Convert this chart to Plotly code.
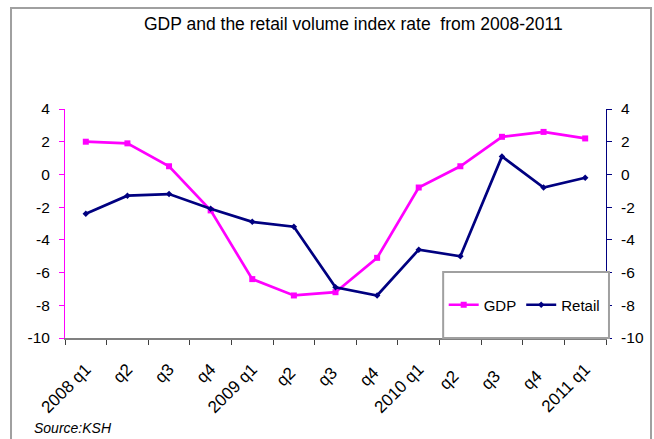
import plotly.graph_objects as go

quarters = ["2008 q1", "q2", "q3", "q4", "2009 q1", "q2 ", "q3 ", "q4 ",
            "2010 q1", "q2  ", "q3  ", "q4  ", "2011 q1"]
gdp = [2.0, 1.9, 0.5, -2.2, -6.4, -7.4, -7.2, -5.1, -0.8, 0.5, 2.3, 2.6, 2.2]
retail = [-2.4, -1.3, -1.2, -2.1, -2.9, -3.2, -6.9, -7.4, -4.6, -5.0, 1.1, -0.8, -0.2]
y_ticks = [-10, -8, -6, -4, -2, 0, 2, 4]
y_tick_text = [str(v) for v in y_ticks]

MAGENTA = "#ff00ff"
NAVY = "#000080"
FONT = "Liberation Sans, Arial, sans-serif"

fig = go.Figure()
fig.add_trace(go.Scatter(
    x=quarters, y=gdp, name="GDP", mode="lines+markers",
    line=dict(color=MAGENTA, width=2.7),
    marker=dict(symbol="square", size=6, color=MAGENTA),
))
fig.add_trace(go.Scatter(
    x=quarters, y=retail, name="Retail", mode="lines+markers", yaxis="y2",
    line=dict(color=NAVY, width=2.7),
    marker=dict(symbol="diamond", size=5, color=NAVY),
))

yrange = [-10, 4]
common_y = dict(range=yrange, tickvals=y_ticks, ticktext=y_tick_text,
                showgrid=False, zeroline=False,
                tickfont=dict(family=FONT, size=15.5, color="black"))

fig.update_layout(
    width=654, height=439,
    margin=dict(l=65, r=48, t=109, b=101, autoexpand=False),
    paper_bgcolor="white", plot_bgcolor="white",
    showlegend=True,
    font=dict(family=FONT, color="black"),
    xaxis=dict(
        type="category", range=[-0.5, 12.5], tickangle=-45,
        tickson="boundaries", ticks="outside", ticklen=5, tickcolor="#404040",
        showline=True, linecolor="#808080", linewidth=1.5,
        showgrid=False, zeroline=False, ticklabelstandoff=13,
        tickfont=dict(family=FONT, size=17, color="black"),
    ),
    xaxis2=dict(
        overlaying="x", range=[-0.5, 12.5], side="bottom",
        tickvals=[i - 0.5 for i in range(14)], ticktext=[""] * 14,
        ticks="inside", ticklen=5, tickcolor="#404040",
        showline=False, showgrid=False, zeroline=False,
    ),
    yaxis=dict(**common_y, side="left", ticks="outside", ticklen=5,
               tickcolor=MAGENTA, showline=True, linecolor=MAGENTA, linewidth=1,
               ticklabelstandoff=6),
    yaxis2=dict(**common_y, side="right", overlaying="y", ticks="outside",
                ticklen=5, tickcolor=NAVY, showline=True, linecolor=NAVY,
                linewidth=1, ticklabelstandoff=6),
    yaxis3=dict(range=yrange, tickvals=y_ticks, side="left", overlaying="y",
                ticks="inside", ticklen=5, tickcolor=MAGENTA,
                showticklabels=False, showline=False, showgrid=False,
                zeroline=False),
    yaxis4=dict(range=yrange, tickvals=y_ticks, side="right", overlaying="y",
                ticks="inside", ticklen=5, tickcolor=NAVY,
                showticklabels=False, showline=False, showgrid=False,
                zeroline=False),
    legend=dict(
        orientation="h", x=0.70, y=0.144, xanchor="left", yanchor="middle",
        bgcolor="rgba(0,0,0,0)", borderwidth=0,
        font=dict(family=FONT, size=15, color="black"),
        itemwidth=30, tracegroupgap=0,
    ),
    shapes=[
        # outer chart frame
        dict(type="rect", xref="paper", yref="paper",
             x0=-0.0998, x1=1.0832, y0=-0.48, y1=1.441,
             line=dict(color="#a0a0a0", width=2), fillcolor="rgba(0,0,0,0)",
             layer="below"),
        # legend box
        dict(type="rect", xref="paper", yref="paper",
             x0=0.699, x1=1.0055, y0=0.0, y1=0.288,
             line=dict(color="#a0a0a0", width=2), fillcolor="white",
             layer="above"),
    ],
    annotations=[
        dict(text="GDP and the retail volume index rate  from 2008-2011",
             xref="paper", yref="paper", x=0.533, y=1.372,
             xanchor="center", yanchor="middle", showarrow=False,
             font=dict(family=FONT, size=17.5, color="black")),
        dict(text="<i>Source:KSH</i>", xref="paper", yref="paper",
             x=-0.061, y=-0.393, xanchor="left", yanchor="middle",
             showarrow=False, font=dict(family=FONT, size=14, color="black")),
    ],
)

fig.write_html("out.html")
